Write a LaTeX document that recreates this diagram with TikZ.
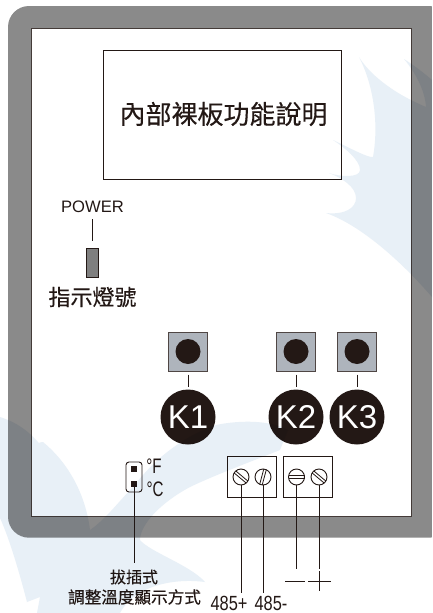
\documentclass[tikz,border=0pt]{standalone}
\usepackage{fontspec}
\setmainfont{Liberation Sans}
\newfontfamily\cjk[FakeBold=0.3]{Noto Sans CJK TC}
\definecolor{ink}{HTML}{231815}
\definecolor{bezel}{HTML}{8A8A8A}
\definecolor{keyface}{HTML}{AEB4BC}
\definecolor{led}{HTML}{7F7F7F}
\definecolor{tint}{HTML}{E8F0F7}
\newcommand{\fs}[1]{\fontsize{#1}{#1}\selectfont}
\tikzset{
  x=1pt,y=-1pt,
  wire/.style={draw=ink,line width=1pt},
  keybox/.style={draw=ink!80,line width=1pt,fill=keyface,minimum size=39pt,inner sep=0pt},
  keydot/.style={circle,fill=ink,minimum size=25pt,inner sep=0pt},
  keybig/.style={circle,fill=ink,minimum size=55pt,inner sep=0pt,text=white,font=\fs{33}},
  termbox/.style={draw=ink,line width=0.9pt,minimum width=49pt,minimum height=41pt,inner sep=0pt},
  screw/.style={circle,draw=ink,line width=0.9pt,minimum size=16pt,inner sep=0pt},
  label/.style={inner sep=0pt,text=ink},
  cjklabel/.style={inner sep=0pt,text=ink,font=\cjk\fs{#1}},
}
\newcommand{\slot}[2]{%
  \begin{scope}[shift={(#1)},rotate=#2]
    \draw[ink,line width=0.8pt] (-8,-1.3) -- (8,-1.3) (-8,1.3) -- (8,1.3);
  \end{scope}}
\begin{document}
\begin{tikzpicture}
\useasboundingbox (0,0) rectangle (432,613);
\fill[white] (0,0) rectangle (432,613);
% bezel
\fill[bezel,rounded corners=21pt] (8,6) rectangle (450,537.7);
\fill[white] (31.7,28) rectangle (411,516);
\fill[white] (432,0) rectangle (460,613);
\draw[ink!85,line width=1pt] (31.7,516) -- (31.7,28) -- (411,28) -- (411,516) -- cycle;
% top panel
\node[draw=ink,line width=0.9pt,minimum width=238.7pt,minimum height=129pt,inner sep=0pt] (panel) at (222.3,114.5) {};
\node[cjklabel=26] (title) at (223.5,114) {內部裸板功能說明};
% power led
\node[label,font=\fs{16.6}] (power) at (92.5,207) {POWER};
\node[draw=ink,line width=1pt,fill=led,minimum width=12pt,minimum height=29pt,inner sep=0pt] (ledbar) at (92.5,262.5) {};
\coordinate (powerend) at (92.5,219);
\draw[wire] (powerend) -- ([yshift=7pt]ledbar.north);
\node[cjklabel=22] (ledtext) at (92.5,297) {指示燈號};
% keys
\foreach \n/\xx/\t in {a/188/K1,b/296/K2,c/357/K3}{
  \node[keybox] (box\n) at (\xx,351.5) {};
  \node[keydot] (dot\n) at (\xx,351.5) {};
  \node[keybig] (big\n) at (\xx,417) {\t};
  \draw[wire] ([yshift=-3pt]box\n.south) -- ([yshift=2pt]big\n.north);
}
% jumper
\node[draw=ink,line width=0.9pt,rounded corners=3pt,minimum width=16pt,minimum height=30pt,inner sep=0pt,fill=white] (jumper) at (134,477) {};
\node[fill=ink,minimum size=6.4pt,inner sep=0pt] (pina) at (134,469) {};
\node[fill=ink,minimum size=6.4pt,inner sep=0pt] (pinb) at (134,484) {};
\node[label,font=\fs{21}] (degf) at (154,466) {\scalebox{0.72}[1]{°F}};
\node[label,font=\fs{21}] (degc) at (155,489.5) {\scalebox{0.72}[1]{°C}};
\coordinate (jumperend) at (134,563);
\draw[wire] ([yshift=5pt]jumper.south) -- (jumperend);
\node[cjklabel=16] (plug) at (134,577) {拔插式};
\node[cjklabel=16.6] (plugb) at (134.5,597) {調整溫度顯示方式};
% terminals
\node[termbox] (terma) at (252,477.2) {};
\node[termbox] (termb) at (308,477.2) {};
\node[screw] (sa) at (241,477) {};
\node[screw] (sb) at (263,477) {};
\node[screw] (sc) at (296.5,477) {};
\node[screw] (sd) at (319,477) {};
\slot{241,477}{-40}
\slot{263,477}{75}
\slot{296.5,477}{0}
\slot{319,477}{-40}
\node[label,font=\fs{20.5}] (pa) at (229,603) {\scalebox{0.8}[1]{485+}};
\node[label,font=\fs{20.5}] (pb) at (271,603) {\scalebox{0.8}[1]{485-}};
\coordinate (ea) at (241,593);
\coordinate (eb) at (263,593);
\coordinate (ec) at (296.5,569);
\coordinate (ed) at (319,569);
\draw[wire] (sa.south) -- (ea);
\draw[wire] (sb.south) -- (eb);
\draw[wire] (sc.south) -- (ec);
\draw[wire] (sd.south) -- (ed);
\draw[wire] (285,581) -- (305,581);
\draw[wire] (308,581) -- (331,581) (319,571) -- (319,591);
% watermark
\begin{scope}[blend mode=multiply]
\clip (0,0) rectangle (432,613);
\fill[tint] (359,57) .. controls (368,72) and (390,92) .. (426,107)
  .. controls (425,90) and (415,72) .. (404,59)
  .. controls (415,66) and (425,74) .. (432,80)
  -- (432,297) .. controls (400,260) and (360,225) .. (326,213)
  .. controls (345,215) and (356,208) .. (356,198)
  .. controls (356,187) and (342,178) .. (329,173)
  .. controls (340,177) and (360,178) .. (360,170)
  .. controls (360,160) and (345,148) .. (333,140)
  .. controls (350,148) and (368,158) .. (373,157)
  .. controls (378,130) and (376,90) .. (359,57) -- cycle;
\fill[tint] (0,417) .. controls (15,422) and (30,430) .. (46,452)
  .. controls (40,452) and (37,449) .. (33,446)
  .. controls (36,444) and (40,442) .. (43,442)
  .. controls (65,460) and (85,490) .. (90,530)
  .. controls (105,520) and (120,500) .. (133,487)
  .. controls (150,465) and (175,440) .. (216,425)
  .. controls (240,420) and (270,420) .. (288,430)
  -- (280,450) .. controls (250,462) and (215,475) .. (190,487)
  .. controls (160,503) and (140,525) .. (140,540)
  .. controls (150,552) and (190,565) .. (205,582)
  .. controls (175,578) and (135,585) .. (120,613)
  -- (37,613) -- (40,597) -- (27,602) .. controls (20,575) and (10,540) .. (0,518) -- cycle;
\end{scope}
\end{tikzpicture}
\end{document}
